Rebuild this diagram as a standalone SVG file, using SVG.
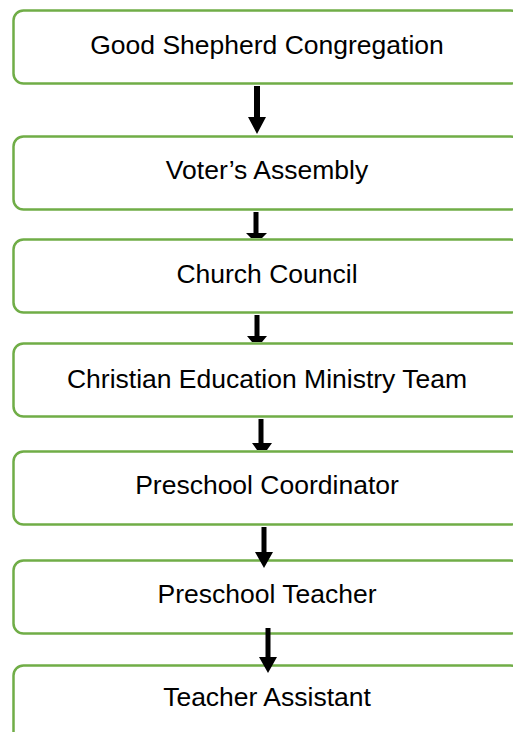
<svg xmlns="http://www.w3.org/2000/svg" width="513" height="732" viewBox="0 0 513 732">
<style>
.box{fill:#fff;stroke:#70AD47;stroke-width:2.5}
.lbl{font-family:"Liberation Sans",Arial,sans-serif;font-size:26.5px;fill:#000;text-anchor:middle}
.arr{fill:#000;stroke:none}
</style>
<rect width="513" height="732" fill="#fff"/>
<g id="n1"><rect class="box" x="13.5" y="10.5" width="507" height="73" rx="10"/><text class="lbl" x="267" y="54">Good Shepherd Congregation</text></g>
<g id="n2"><rect class="box" x="13.5" y="136.5" width="507" height="73" rx="10"/><text class="lbl" x="267" y="179">Voter’s Assembly</text></g>
<g id="n3"><rect class="box" x="13.5" y="239.5" width="507" height="73" rx="10"/><text class="lbl" x="267" y="283">Church Council</text></g>
<g id="n4"><rect class="box" x="13.5" y="343.5" width="507" height="73" rx="10"/><text class="lbl" x="267" y="388">Christian Education Ministry Team</text></g>
<g id="n5"><rect class="box" x="13.5" y="451.5" width="507" height="73" rx="10"/><text class="lbl" x="267" y="494">Preschool Coordinator</text></g>
<g id="n6"><rect class="box" x="13.5" y="560.5" width="507" height="73" rx="10"/><text class="lbl" x="267" y="603">Preschool Teacher</text></g>
<g id="n7"><rect class="box" x="13.5" y="665.5" width="507" height="80" rx="10"/><text class="lbl" x="267" y="706">Teacher Assistant</text></g>
<g id="connectors">
<polygon class="arr" points="254,86 260,86 260,117 266,117 257,134 248,117 254,117"/>
<polygon class="arr" points="253.5,212 258.5,212 258.5,233 267,233 262,238 251,238 246,233 253.5,233"/>
<polygon class="arr" points="254.5,315 259.5,315 259.5,336 267,336 262,342 252,342 247,336 254.5,336"/>
<polygon class="arr" points="258.5,419 263.5,419 263.5,443 272,443 267,450 257,450 252,443 258.5,443"/>
<polygon class="arr" points="261.5,527 266.5,527 266.5,552 273,552 264,568 255,552 261.5,552"/>
<polygon class="arr" points="265.5,628 270.5,628 270.5,657 277,657 268,673 259,657 265.5,657"/>
</g>
</svg>
